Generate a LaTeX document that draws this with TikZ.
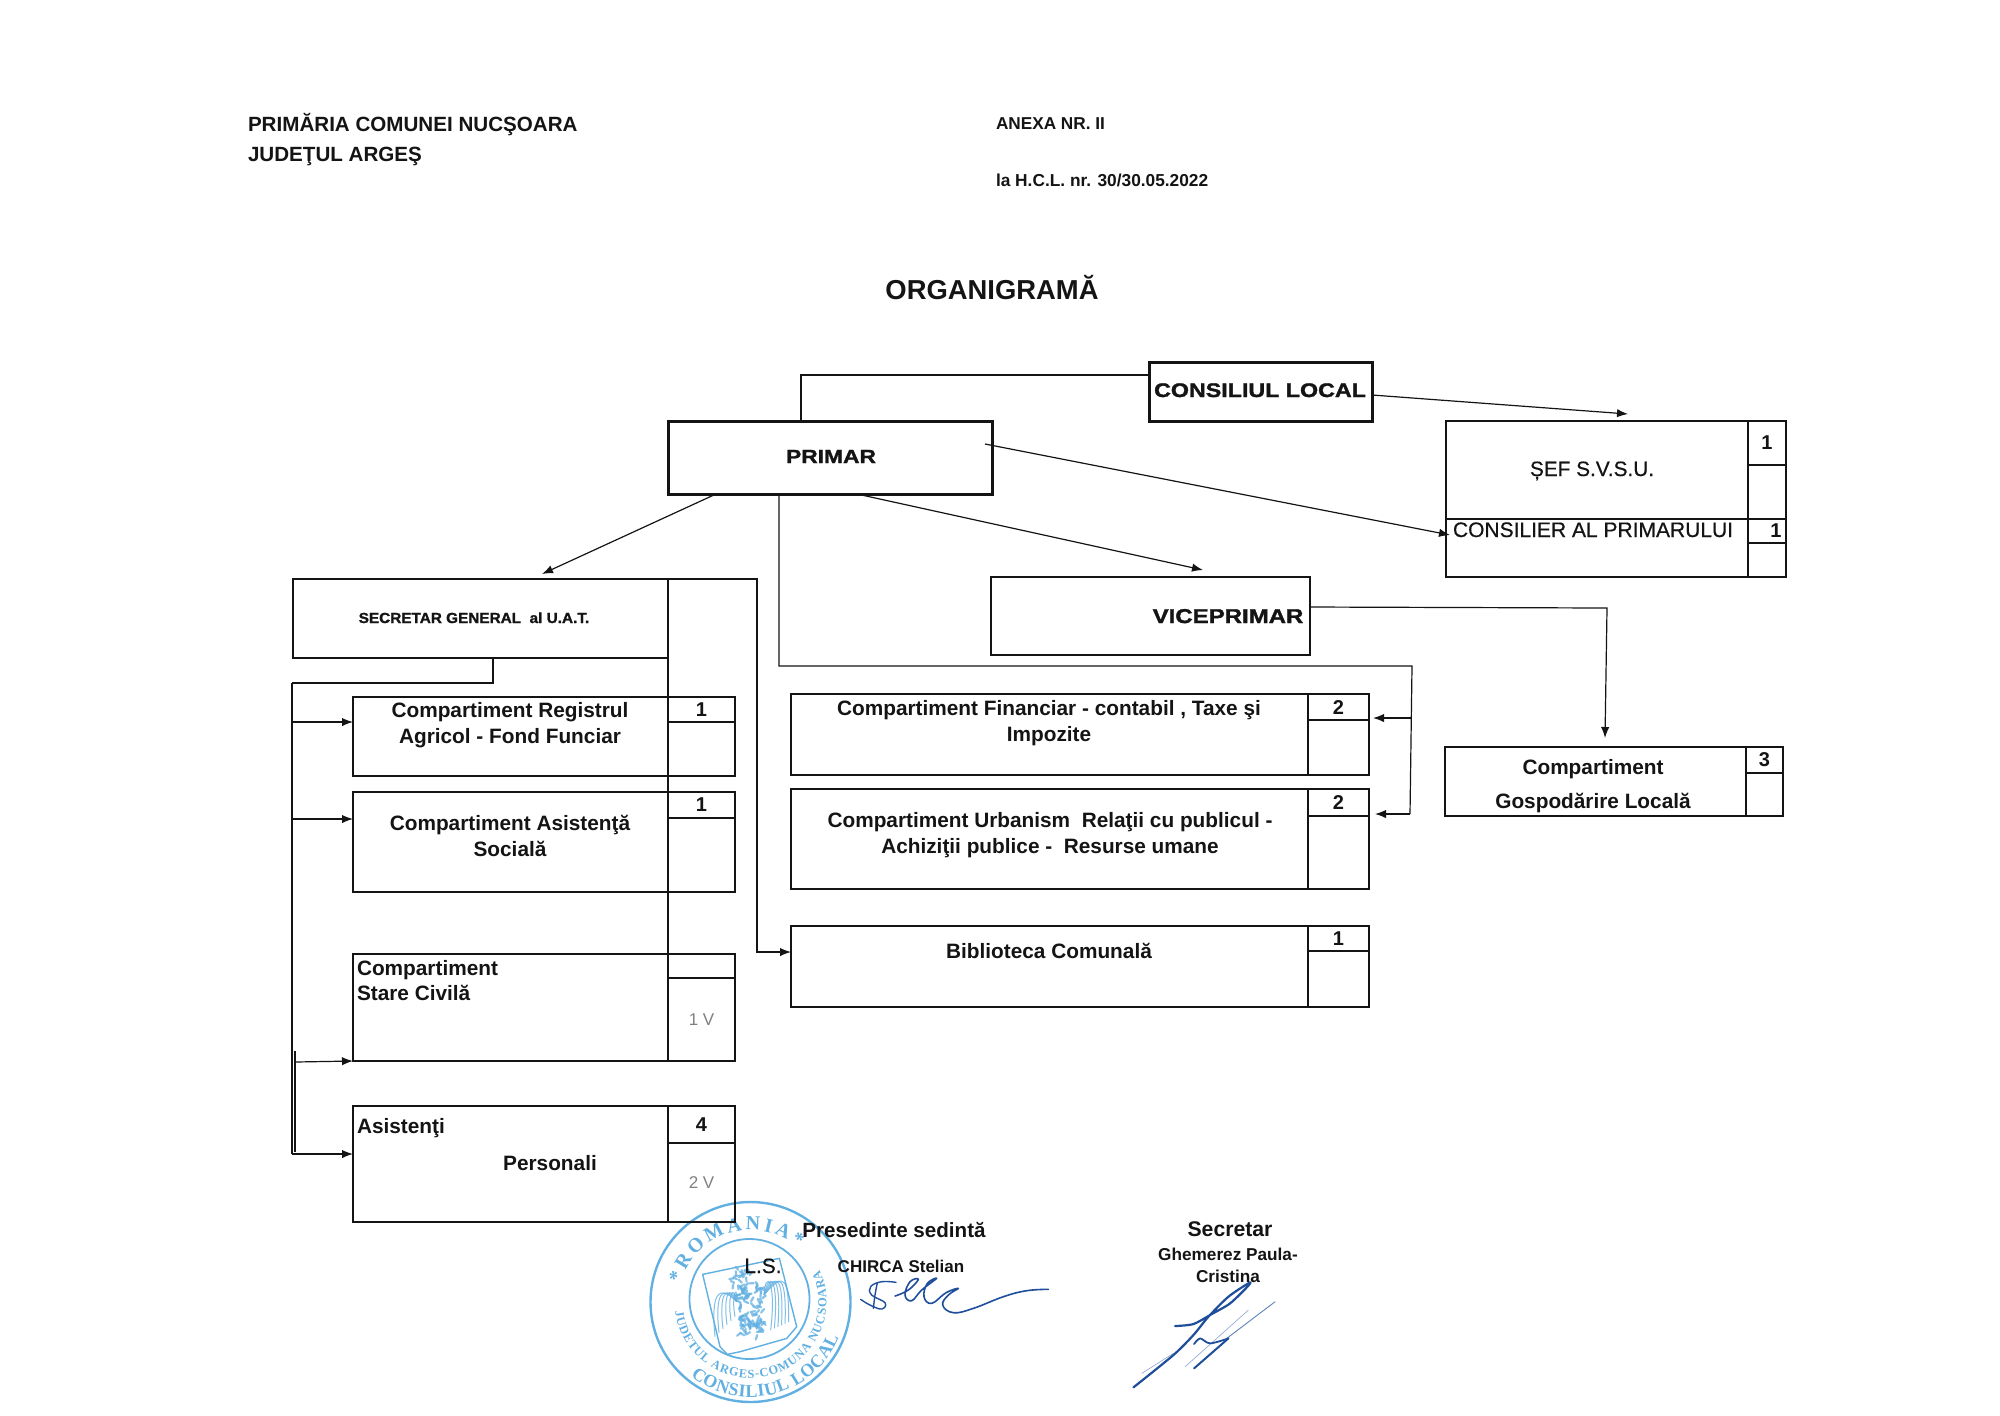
\documentclass[tikz,border=0pt]{standalone}
\usepackage{fontspec}
\usepackage{graphicx}
\setmainfont{Liberation Sans}
\newfontfamily\sealserif{Liberation Serif}
\newfontfamily\heavysans[BoldFeatures={FakeBold=1.4}]{Liberation Sans}
\newfontfamily\medsans[FakeBold=0.5]{Liberation Sans}
\usetikzlibrary{arrows.meta,decorations.text}
\definecolor{ink}{HTML}{141414}
\definecolor{sealblue}{HTML}{62B0E2}
\definecolor{signblue}{HTML}{1F4E9A}
\newcommand\fs[1]{\fontsize{#1}{1.24\dimexpr#1pt\relax}\selectfont}
\tikzset{
  bx/.style={draw=ink,line width=0.75pt,inner sep=0pt,outer sep=0pt,rectangle,anchor=center},
  thickbx/.style={bx,line width=1.5pt},
  cellnum/.style={bx,text=ink,font=\bfseries\fs{10}},
  lbl/.style={anchor=base,inner sep=0pt,outer sep=0pt,text=ink,font=\bfseries\fs{10.4},align=center},
  lbll/.style={lbl,anchor=base west,align=left},
  conn/.style={draw=ink,line width=0.6pt},
  arr/.style={conn,-{Latex[length=5.5pt,width=4.2pt]}},
  sealline/.style={draw=sealblue,line width=1.2pt},
  feather/.style={draw=sealblue,line width=0.5pt,opacity=.8},
  sign/.style={draw=signblue,line width=0.9pt,line cap=round,line join=round},
  signthin/.style={draw=signblue!45,line width=0.35pt,line cap=round}
}
\newcommand\rbox[6][bx]{\node[#1,minimum width={(#5-#3)*0.5pt},minimum height={(#6-#4)*0.5pt}] (#2) at ({(#3+#5)/2},{(#4+#6)/2}) {};}
% name x1 y1 xd yh x2 y2 count lower
\newcommand\cbox[9]{%
  \rbox{#1}{#2}{#3}{#4}{#7}%
  \node[cellnum,minimum width={(#6-#4)*0.5pt},minimum height={(#5-#3)*0.5pt}] (#1-a) at ({(#4+#6)/2},{(#3+#5)/2}) {#8};
  \node[bx,text=gray,font=\fs{8.5},minimum width={(#6-#4)*0.5pt},minimum height={(#7-#5)*0.5pt}] (#1-b) at ({(#4+#6)/2},{(#5+#7)/2}) {#9};
}
\begin{document}
\begin{tikzpicture}[x=0.5pt,y=-0.5pt]
\useasboundingbox[fill=white] (0,0) rectangle (2000,1415);

% ---- seal ----
\begin{scope}[shift={(750.5,1302)},x=0.5pt,y=0.5pt]
  \draw[sealline] (0,0) circle[radius=50pt];
  \draw[sealline,line width=0.9pt] (-1,3) circle[radius=30pt];
  \path[decorate,decoration={text along path,text align={fit to path},text={|\color{sealblue}\sealserif\bfseries\fs{10}|*ROMANIA*}}]
    (165:36pt) arc[start angle=165,end angle=49,radius=36pt];
  \path[decorate,decoration={text along path,text align={fit to path},text={|\color{sealblue}\sealserif\bfseries\fs{6.2}|JUDETUL ARGES-COMUNA NUCSOARA}}]
    (187:38pt) arc[start angle=187,end angle=385,radius=38pt];
  \path[decorate,decoration={text along path,text align={fit to path},text={|\color{sealblue}\sealserif\bfseries\fs{9}|CONSILIUL LOCAL}}]
    (231:47.5pt) arc[start angle=231,end angle=338,radius=47.5pt];
\end{scope}
\begin{scope}[shift={(640,1195)},x=0.1667pt,y=-0.1667pt]
  \draw[sealline,line width=0.7pt,line join=round] (188,238) -- (418,190) -- (470,395) -- (440,430) -- (300,470) -- (262,478) -- (240,455) -- cycle;
  % eagle: wings, head, body, tail as pale feathering
  \foreach \a in {0,12,...,60}{
    \draw[feather] (290,320) .. controls ({235+\a},{265}) and ({212+\a},{295}) .. ({225+\a},{425-\a});
    \draw[feather] (372,300) .. controls ({375+\a},{225}) and ({410+\a*.6},{250}) .. ({392+\a*.9},{405-\a*.4});
  }
  \pgfmathsetseed{4217}
  \foreach \i in {1,...,90}{
    \pgfmathsetmacro\px{330+38*rand}
    \pgfmathsetmacro\py{345+75*rand}
    \pgfmathsetmacro\ang{360*rnd}
    \draw[sealblue,line width=1.1pt,line cap=round,opacity=.75] (\px,\py) -- ++(\ang:14);
  }
  \foreach \i in {1,...,22}{
    \pgfmathsetmacro\px{305+26*rand}
    \pgfmathsetmacro\py{250+26*rand}
    \pgfmathsetmacro\ang{360*rnd}
    \draw[sealblue,line width=1.1pt,line cap=round,opacity=.75] (\px,\py) -- ++(\ang:12);
  }
\end{scope}

% ---- boxes ----
\rbox[thickbx]{clocal}{1149}{362}{1372}{421}
\rbox[thickbx]{primar}{668}{421}{992}{494}
\rbox{secr}{293}{579}{668}{658}
\rbox{vice}{991}{577}{1310}{655}

\cbox{svsu}{1446}{421}{1748}{465}{1786}{519}{1}{}
\cbox{consil}{1446}{519}{1748}{543}{1786}{577}{\hspace*{9pt}1}{}
\cbox{regis}{353}{697}{668}{722}{735}{776}{1}{}
\cbox{asist}{353}{792}{668}{818}{735}{892}{1}{}
\cbox{stare}{353}{954}{668}{978}{735}{1061}{}{1 V}
\cbox{pers}{353}{1106}{668}{1143}{735}{1222}{4}{2 V}
\cbox{finan}{791}{694}{1308}{720}{1369}{775}{2}{}
\cbox{urban}{791}{789}{1308}{816}{1369}{889}{2}{}
\cbox{bibl}{791}{926}{1308}{951}{1369}{1007}{1}{}
\cbox{gosp}{1445}{747}{1746}{773}{1783}{816}{3}{}

% ---- waypoints ----
\coordinate (trunktop) at (292,683);
\coordinate (trunkend) at (292,1154);
\coordinate (brk) at (1412,666);
\coordinate (sectop) at (757,579);

% ---- connectors ----
\draw[conn] (clocal.west |- 0,375) -| (801,0 |- primar.north);
\draw[arr] (clocal.east |- 0,395) -- (1628,414);
\draw[arr] (985,444) -- (1450,535);
\draw[arr] (716,0 |- primar.south) -- (542,574);
\draw[arr] (857,0 |- primar.south) -- (1203,570);
\draw[conn] (779,0 |- primar.south) |- (brk) -- (1410,814);
\draw[arr] (1412,718) -- (1373,718);
\draw[arr] (1410,814) -- (1375,814);
\draw[arr] (vice.east |- 0,607) -- (1607,608) -- (1605,738);

\draw[conn] (secr.south east) -- (stare.north east);
\draw[arr] (secr.north east) -- (sectop) |- (bibl.west |- 0,952);
\draw[conn,line width=1pt] (493,0 |- secr.south) -- (493,683) -- (trunktop);
\draw[conn] (trunktop) -- (trunkend);
\draw[conn,line width=1pt] (295,1051) -- (295,1152);
\draw[arr] (292,722) -- (regis.west |- 0,722);
\draw[arr] (292,819) -- (asist.west |- 0,819);
\draw[arr] (295,1062) -- (stare.south west);
\draw[arr] (trunkend) -- (pers.west |- 0,1154);

% ---- box texts ----
\node[lbl,font=\heavysans\bfseries\fs{9.85}] (tcl) at (1260,397) {\scalebox{1.18}[1]{CONSILIUL LOCAL}};
\node[lbl,font=\heavysans\bfseries\fs{9.5}] (tpr) at (831,463) {\scalebox{1.2}[1]{PRIMAR}};
\node[lbl,font=\heavysans\bfseries\fs{10}] (tvi) at (1228,623) {\scalebox{1.2}[1]{VICEPRIMAR}};
\node[lbl,font=\heavysans\bfseries\fs{7.3}] (tse) at (474,623) {\scalebox{1.05}[1]{SECRETAR GENERAL\ \ al U.A.T.}};
\node[lbl,font=\medsans\fs{10.4}] (tsv) at (1592,476) {ȘEF S.V.S.U.};
\node[lbl,font=\medsans\fs{10.5}] (tco) at (1593,537) {CONSILIER AL PRIMARULUI};
\node[lbl] (t1a) at (510,717) {Compartiment Registrul};
\node[lbl] (t1b) at (510,743) {Agricol - Fond Funciar};
\node[lbl] (t2a) at (510,830) {Compartiment Asistenţă};
\node[lbl] (t2b) at (510,856) {Socială};
\node[lbll] (t3a) at (357,975) {Compartiment};
\node[lbll] (t3b) at (357,1000) {Stare Civilă};
\node[lbll] (t4a) at (357,1133) {Asistenţi};
\node[lbl] (t4b) at (550,1170) {Personali};
\node[lbl] (t5a) at (1049,715) {Compartiment Financiar - contabil , Taxe şi};
\node[lbl] (t5b) at (1049,741) {Impozite};
\node[lbl] (t6a) at (1050,827) {Compartiment Urbanism\ \ Relaţii cu publicul -};
\node[lbl] (t6b) at (1050,853) {Achiziţii publice -\ \ Resurse umane};
\node[lbl] (t7) at (1049,958) {Biblioteca Comunală};
\node[lbl] (t8a) at (1593,774) {Compartiment};
\node[lbl] (t8b) at (1593,808) {Gospodărire Locală};

% ---- header ----
\node[lbll,font=\bfseries\fs{10.3}] (h1) at (248,131) {PRIMĂRIA COMUNEI NUCŞOARA};
\node[lbll,font=\bfseries\fs{10.3}] (h2) at (248,161) {JUDEŢUL ARGEŞ};
\node[lbll,font=\bfseries\fs{8.6}] (h3) at (996,129) {ANEXA NR. II};
\node[lbll,font=\bfseries\fs{8.65}] (h4) at (996,186) {la H.C.L. nr. 30/30.05.2022};
\node[lbl,font=\bfseries\fs{13.7}] (h5) at (992,299) {ORGANIGRAMĂ};

% ---- footer ----
\node[lbl,font=\bfseries\fs{10.3}] (f1) at (894,1237) {Presedinte sedintă};
\node[lbl,font=\medsans\fs{10.4}] (f2) at (763,1273) {L.S.};
\node[lbl,font=\bfseries\fs{8.5}] (f3) at (901,1272) {CHIRCA Stelian};
\node[lbl,font=\bfseries\fs{10.6}] (f4) at (1230,1236) {Secretar};
\node[lbl,font=\bfseries\fs{8.6}] (f5) at (1228,1260) {Ghemerez Paula-};
\node[lbl,font=\bfseries\fs{8.6}] (f6) at (1228,1282.5) {Cristina};

% ---- signatures ----
\begin{scope}[shift={(840,1240)},x=0.1667pt,y=-0.1667pt]
  \draw[sign,line width=.7pt] plot[smooth,tension=.7] coordinates {(168,127) (125,125) (92,140) (95,165) (135,188) (125,207) (90,195) (62,178)};
  \draw[sign,line width=.7pt] plot[smooth,tension=.7] coordinates {(112,128) (105,165) (100,205)};
  \draw[sign,line width=.8pt] plot[smooth,tension=.7] coordinates {(165,168) (205,150) (235,118) (210,125) (195,165) (215,182) (245,150) (290,115) (262,130) (252,170) (275,190) (318,158) (355,145) (325,165) (308,195) (340,218) (400,205) (490,170) (560,152) (625,148)};
  \draw[signthin] (905,400) -- (1000,340);
  \draw[signthin] (1035,380) -- (1225,210);
  \draw[signthin,draw=signblue!70,line width=.45pt] (1160,295) -- (1305,185);
  \draw[sign,line width=1.1pt] plot[smooth,tension=.45] coordinates {(880,442) (1000,345) (1060,285) (1105,230) (1165,170) (1228,128) (1222,140) (1170,190) (1115,222) (1060,252) (1005,258)};
  \draw[sign,line width=.9pt] plot[smooth,tension=.5] coordinates {(1062,312) (1080,295) (1110,310) (1165,295)};
  \draw[sign,line width=1pt] (1165,295) -- (1062,385);
\end{scope}
\end{tikzpicture}
\end{document}
